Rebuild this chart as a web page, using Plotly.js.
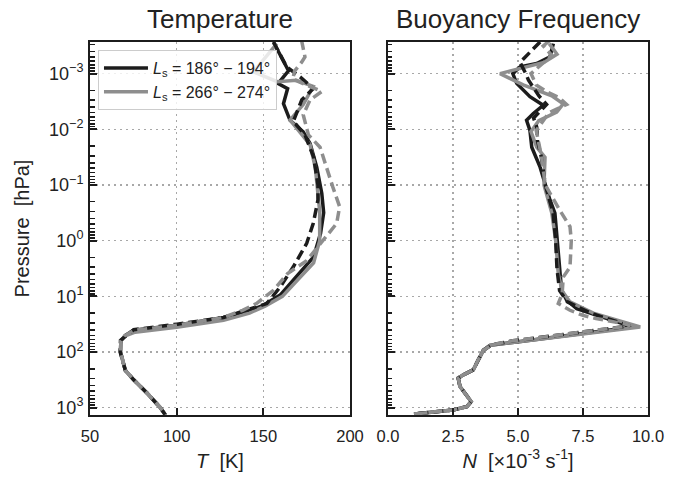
<!DOCTYPE html>
<html>
<head>
<meta charset="utf-8">
<script src="https://cdn.plot.ly/plotly-3.0.1.min.js"></script>
<style>html,body{margin:0;padding:0;background:#fff;}#plot{width:685px;height:479px;}</style>
</head>
<body>
<div id="plot"></div>
<script>
// ---- Temperature profiles (pressure hPa, temperature K) ----
const pT_blackSolid = [2.8e-4, 8.9e-4, 1.51e-3, 1.86e-3, 3.47e-3, 6.9e-3, 0.0112, 0.0182, 0.048, 0.141, 0.316, 0.74, 1.95, 5.1, 9.5, 14.5, 17.8, 24, 33, 40.7, 50, 63, 100, 214, 316, 550, 1000, 1350];
const T_blackSolid  = [156, 164.5, 158.5, 164, 161.6, 165.4, 173, 177, 180.8, 183.7, 184.8, 183, 179, 167.5, 159.7, 150, 142.4, 127, 100.2, 75.2, 70.4, 67.8, 67.6, 70.4, 75.2, 83, 90.6, 93.5];

const pT_greySolid = [2.9e-4, 9.3e-4, 1.4e-3, 1.32e-3, 1.7e-3, 3.6e-3, 6.8e-3, 0.011, 0.019, 0.05, 0.14, 0.3, 1.0, 2.5, 5, 10, 15, 20, 27, 36, 44, 52, 63, 100, 214, 316, 550, 1000, 1350];
const T_greySolid  = [157.8, 144.3, 158, 169, 178.8, 173, 165.4, 171, 177, 180, 181.5, 182.5, 182.5, 179, 170, 161, 151, 142, 127, 100, 76, 70, 67.8, 67.6, 70.4, 75.2, 83, 90.6, 93.5];

const pT_blackDash = [2.7e-4, 7.6e-4, 1.15e-3, 1.86e-3, 2.95e-3, 7.2e-3, 0.0126, 0.0316, 0.1, 0.186, 0.49, 1.12, 2.95, 6.8, 13.5, 17.8, 24, 31.6, 39.8, 61.7, 100, 214, 316, 550, 1000, 1350];
const T_blackDash  = [155.8, 163.5, 171.2, 178.8, 172.2, 167.3, 174, 179, 181.5, 181.5, 178.8, 175, 167.3, 159.7, 152, 140.5, 127, 100.2, 75.2, 67.6, 67.4, 70.4, 75.2, 83, 90.6, 93.5];

const pT_greyDash = [2.5e-4, 5e-4, 6.3e-4, 9e-4, 1.26e-3, 2.1e-3, 2.95e-3, 5.5e-3, 0.0126, 0.021, 0.107, 0.245, 0.49, 1.12, 2.3, 3.9, 7.8, 13.5, 17.8, 24, 33, 41, 51, 63, 100, 214, 316, 550, 1000, 1350];
const T_greyDash  = [172, 174, 172, 168, 167, 183.7, 177, 173, 176, 182.7, 190, 194, 192.3, 182.7, 175, 164, 155.8, 146, 138, 127, 100.2, 75.2, 70, 67.8, 67.6, 70.4, 75.2, 83, 90.6, 93.5];

// ---- Buoyancy frequency profiles (pressure hPa, N in 1e-3 s^-1) ----
const pN_blackSolid = [2.9e-4, 5e-4, 6.6e-4, 7.6e-4, 1e-3, 1.5e-3, 2.6e-3, 3.7e-3, 5.2e-3, 6.9e-3, 0.0105, 0.021, 0.048, 0.186, 0.32, 1.3, 3.9, 7.8, 11.7, 16.6, 21.9, 28.8, 35.5, 66, 76, 93, 138, 209, 257, 295, 417, 550, 776, 955, 1096, 1300];
const N_blackSolid  = [6.36, 6.23, 5.72, 5.08, 4.8, 4.95, 5.46, 5.97, 5.59, 5.33, 5.46, 5.53, 5.85, 6.23, 6.42, 6.55, 6.62, 6.68, 6.87, 7.26, 8.03, 8.8, 9.43, 4.95, 3.92, 3.67, 3.47, 3.28, 2.9, 2.7, 2.77, 2.96, 3.2, 3.03, 2.5, 1.0];

const pN_greySolid = [2.9e-4, 4.5e-4, 6.3e-4, 1e-3, 1.6e-3, 2.5e-3, 3.5e-3, 4.9e-3, 7e-3, 0.011, 0.021, 0.032, 0.1, 0.32, 1, 4, 8, 12.6, 20, 28, 35.5, 66, 76, 93, 138, 209, 257, 295, 417, 550, 776, 955, 1096, 1300];
const N_greySolid  = [6.2, 6.5, 6.0, 4.31, 5.2, 6.3, 6.74, 6.49, 5.8, 5.5, 5.72, 6.04, 6.0, 6.3, 6.45, 6.55, 6.7, 7.0, 7.9, 9.0, 9.7, 4.95, 3.92, 3.67, 3.47, 3.28, 2.9, 2.7, 2.77, 2.96, 3.2, 3.03, 2.5, 1.0];

const pN_blackDash = [2.7e-4, 3.8e-4, 6.3e-4, 1e-3, 1.3e-3, 2.5e-3, 3.6e-3, 6.3e-3, 9.1e-3, 0.016, 0.032, 0.1, 0.32, 1, 3.2, 7.9, 12.6, 20, 28, 34, 50, 63, 74, 93, 138, 209, 257, 295, 417, 550, 776, 955, 1096, 1300];
const N_blackDash  = [5.85, 5.53, 5.08, 5.3, 5.4, 5.8, 6.1, 5.6, 5.72, 5.75, 5.9, 6.05, 6.35, 6.45, 6.5, 6.6, 6.9, 7.8, 8.7, 9.3, 6.5, 4.8, 4.0, 3.67, 3.47, 3.28, 2.9, 2.7, 2.77, 2.96, 3.2, 3.03, 2.5, 1.0];

const pN_greyDash = [2.6e-4, 3.2e-4, 4.7e-4, 6.3e-4, 1e-3, 1.6e-3, 2.1e-3, 2.75e-3, 3.6e-3, 5e-3, 0.0105, 0.03, 0.1, 0.28, 0.56, 1.0, 3, 4.5, 8.9, 13.5, 17.8, 22, 25, 32, 34, 50, 63, 74, 93, 138, 209, 257, 295, 417, 550, 776, 955, 1096, 1300];
const N_greyDash  = [6.2, 5.97, 6.3, 6.0, 5.5, 5.7, 6.1, 6.6, 6.87, 6.2, 5.7, 5.9, 6.05, 6.6, 7.0, 7.05, 7.0, 6.74, 6.7, 6.55, 7.0, 7.5, 8.0, 9.2, 9.3, 6.5, 4.8, 4.0, 3.67, 3.47, 3.28, 2.9, 2.7, 2.77, 2.96, 3.2, 3.03, 2.5, 1.0];

// ---- labels ----
const legendLabels = ['<i>L</i><sub>s</sub> = 186° − 194°', '<i>L</i><sub>s</sub> = 266° − 274°'];
const pTickVals = [1e-3, 1e-2, 1e-1, 1, 10, 100, 1000];
const pTickText = ['10<sup>−3</sup>', '10<sup>−2</sup>', '10<sup>−1</sup>', '10<sup>0</sup>', '10<sup>1</sup>', '10<sup>2</sup>', '10<sup>3</sup>'];
const TTickVals = [50, 100, 150, 200];
const TTickText = ['50', '100', '150', '200'];
const NTickVals = [0, 2.5, 5, 7.5, 10];
const NTickText = ['0.0', '2.5', '5.0', '7.5', '10.0'];

// minor log tick positions (2..9 within each decade)
const minorDecades = [1e-4, 1e-3, 1e-2, 1e-1, 1, 10, 100, 1000];
const minorMult = [2, 3, 4, 5, 6, 7, 8, 9];
const pMinorVals = [];
minorDecades.forEach(d => minorMult.forEach(m => pMinorVals.push(d * m)));

const BLACK = '#1c1c1c', GREY = '#8e8e8e', LW = 3.5, DASH = '10px,5px';
const FONT = 'Liberation Sans';

function tr(x, y, color, dash, xa, ya, name, show) {
  return {x: x, y: y, xaxis: xa, yaxis: ya, type: 'scatter', mode: 'lines',
          line: {color: color, width: LW, dash: dash}, name: name || '', showlegend: !!show,
          hoverinfo: 'skip'};
}

const data = [
  tr(T_blackSolid, pT_blackSolid, BLACK, 'solid', 'x', 'y', legendLabels[0], true),
  tr(T_greySolid, pT_greySolid, GREY, 'solid', 'x', 'y', legendLabels[1], true),
  tr(T_blackDash, pT_blackDash, BLACK, DASH, 'x', 'y'),
  tr(T_greyDash, pT_greyDash, GREY, DASH, 'x', 'y'),
  tr(N_blackSolid, pN_blackSolid, BLACK, 'solid', 'x2', 'y2'),
  tr(N_greySolid, pN_greySolid, GREY, 'solid', 'x2', 'y2'),
  tr(N_blackDash, pN_blackDash, BLACK, DASH, 'x2', 'y2'),
  tr(N_greyDash, pN_greyDash, GREY, DASH, 'x2', 'y2')
];

const gridStyle = {showgrid: true, gridcolor: '#a8a8a8', gridwidth: 1.5, griddash: '2px,4px'};
const frame = {showline: true, mirror: true, linecolor: BLACK, linewidth: 2, zeroline: false};

function yax(showLabels, title) {
  return Object.assign({
    type: 'log', range: [3.131, -3.567], tickmode: 'array', tickvals: pTickVals, ticktext: pTickText,
    ticks: 'inside', ticklen: 7, tickwidth: 2, tickcolor: BLACK, showticklabels: showLabels,
    tickfont: {family: FONT, size: 18, color: '#222'}, ticklabelstandoff: 1, domain: [0, 1],
    minor: {ticks: 'inside', ticklen: 4.5, tickwidth: 1.5, tickcolor: BLACK, tickmode: 'array',
            tickvals: pMinorVals, showgrid: false},
    title: title ? {text: title, font: {family: FONT, size: 20, color: '#222'}, standoff: 14} : undefined
  }, gridStyle, frame);
}

function xax(dom, range, vals, text, title, anchor) {
  return Object.assign({
    domain: dom, range: range, tickmode: 'array', tickvals: vals, ticktext: text, anchor: anchor,
    ticks: 'inside', ticklen: 7, tickwidth: 2, tickcolor: BLACK,
    tickfont: {family: FONT, size: 16.5, color: '#222'}, ticklabelstandoff: 5,
    title: {text: title, font: {family: FONT, size: 20, color: '#222'}, standoff: 10}
  }, gridStyle, frame);
}

const layout = {
  width: 685, height: 479,
  margin: {l: 90, r: 37, t: 42, b: 64},
  paper_bgcolor: '#ffffff', plot_bgcolor: '#ffffff',
  font: {family: FONT, color: '#222'},
  showlegend: true,
  legend: {x: 0.0143, y: 0.9786, xanchor: 'left', yanchor: 'top', xref: 'paper', yref: 'paper',
           bgcolor: 'rgba(255,255,255,0.8)', bordercolor: '#cccccc', borderwidth: 1,
           itemwidth: 44, font: {family: FONT, size: 16, color: '#222'}, tracegroupgap: 0},
  xaxis: xax([0, 0.466], [50, 200], TTickVals, TTickText, '<i>T</i>\u00a0\u00a0[K]', 'y'),
  xaxis2: xax([0.534, 1], [0, 10], NTickVals, NTickText, '<i>N</i>\u00a0\u00a0[×10<sup>-3</sup> s<sup>-1</sup>]', 'y2'),
  yaxis: Object.assign(yax(true, 'Pressure\u00a0\u00a0[hPa]'), {anchor: 'x'}),
  yaxis2: Object.assign(yax(false, null), {anchor: 'x2'}),
  annotations: [
    {text: 'Temperature', xref: 'paper', yref: 'paper', x: 0.233, y: 1, xanchor: 'center', yanchor: 'bottom',
     yshift: 6, showarrow: false, font: {family: FONT, size: 26, color: '#222'}},
    {text: 'Buoyancy Frequency', xref: 'paper', yref: 'paper', x: 0.767, y: 1, xanchor: 'center', yanchor: 'bottom',
     yshift: 6, showarrow: false, font: {family: FONT, size: 26, color: '#222'}}
  ]
};

Plotly.newPlot('plot', data, layout, {staticPlot: true, displayModeBar: false});
</script>
</body>
</html>
